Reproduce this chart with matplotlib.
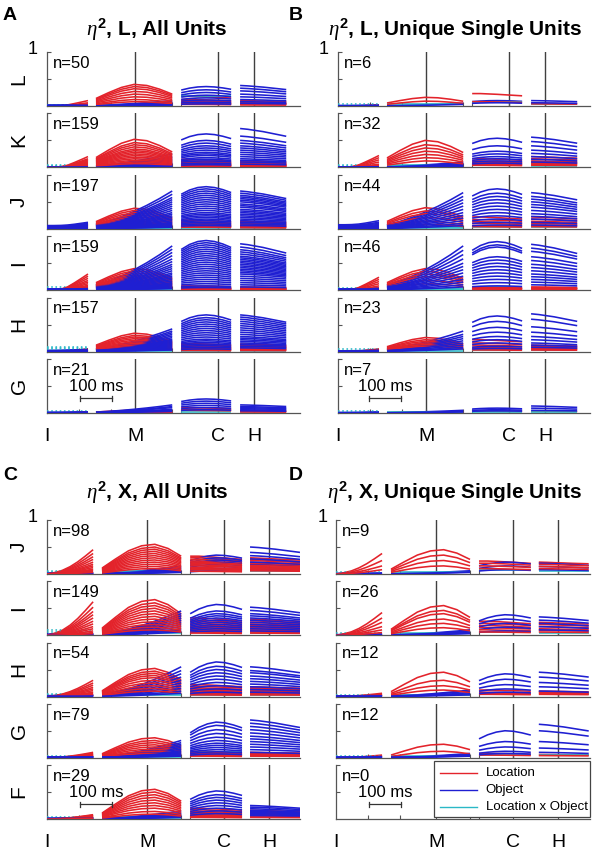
import numpy as np
import matplotlib
matplotlib.use('Agg')
import matplotlib.pyplot as plt
from matplotlib.patches import Rectangle
from matplotlib.lines import Line2D

plt.rcParams['font.family'] = ['Liberation Sans', 'DejaVu Sans']
plt.rcParams['mathtext.fontset'] = 'custom'
plt.rcParams['mathtext.it'] = 'Liberation Serif:italic'
plt.rcParams['mathtext.rm'] = 'Liberation Sans'
plt.rcParams['mathtext.bf'] = 'Liberation Sans:bold'

# ---------------- data ----------------
EVENT_LABELS = ['I', 'M', 'C', 'H']
AB_EVENTS = [0, 275, 534, 647]          # ms
CD_EVENTS = [0, 313, 553, 694]
AB_SEGMENTS = [[0, 128], [153, 391], [419, 575], [603, 747]]
CD_SEGMENTS = [[0, 144], [172, 419], [447, 609], [634, 790]]
SCALE_BAR_MS = 100

A_ROWS = ['L', 'K', 'J', 'I', 'H', 'G']
C_ROWS = ['J', 'I', 'H', 'G', 'F']
A_N = [50, 159, 197, 159, 157, 21]
B_N = [6, 32, 44, 46, 23, 7]
C_N = [98, 149, 54, 79, 29]
D_N = [9, 26, 12, 12, 0]

# normalised time profiles of each colour within the 4 windows (panels A, B)
AB_RED_PROFILE = [[0.0, 0.0, 0.05, 0.2, 0.45, 0.72, 1.0],
                  [0.35, 0.62, 0.86, 1.0, 0.95, 0.78, 0.55],
                  [1.0, 1.0, 0.97, 0.94, 0.9, 0.86, 0.82],
                  [1.0, 0.98, 0.95, 0.93, 0.9, 0.88, 0.86]]
AB_BLUE_PROFILE = [[0.5, 0.5, 0.52, 0.58, 0.7, 0.85, 1.0],
                   [0.12, 0.2, 0.32, 0.46, 0.62, 0.8, 1.0],
                   [0.82, 0.92, 0.98, 1.0, 0.98, 0.93, 0.86],
                   [1.0, 0.98, 0.95, 0.92, 0.88, 0.84, 0.8]]
# panels C, D
CD_RED_PROFILE = [[0.0, 0.06, 0.15, 0.3, 0.5, 0.74, 1.0],
                  [0.2, 0.5, 0.78, 0.95, 1.0, 0.86, 0.6],
                  [1.0, 1.0, 0.97, 0.94, 0.9, 0.86, 0.82],
                  [1.0, 0.98, 0.95, 0.93, 0.9, 0.88, 0.86]]
CD_BLUE_PROFILE = [[0.5, 0.5, 0.52, 0.58, 0.7, 0.85, 1.0],
                   [0.1, 0.16, 0.26, 0.4, 0.58, 0.78, 1.0],
                   [0.7, 0.85, 0.95, 1.0, 0.98, 0.92, 0.84],
                   [1.0, 0.98, 0.95, 0.92, 0.88, 0.84, 0.8]]
CYAN_PROFILE = [[1.0] * 7, [1.0] * 7, [1.0] * 7, [1.0] * 7]

# each curve: level in window 1..4  (eta^2)
A_L_red = [[0.10, 0.40, 0.12, 0.06], [0.06, 0.36, 0.18, 0.08], [0.04, 0.32, 0.10, 0.05],
           [0.02, 0.27, 0.08, 0.10], [0.02, 0.22, 0.06, 0.04], [0.01, 0.17, 0.05, 0.03],
           [0.01, 0.12, 0.04, 0.05], [0.01, 0.08, 0.03, 0.02]]
A_L_blue = [[0.03, 0.10, 0.36, 0.38], [0.02, 0.08, 0.30, 0.33], [0.02, 0.06, 0.25, 0.28],
            [0.02, 0.05, 0.20, 0.22], [0.01, 0.04, 0.15, 0.17], [0.01, 0.03, 0.11, 0.12],
            [0.01, 0.02, 0.07, 0.08], [0.01, 0.02, 0.04, 0.05]]
A_L_cyan = [[0.02, 0.02, 0.05, 0.04], [0.01, 0.01, 0.18, 0.03]]

A_K_red = [[0.20, 0.52, 0.15, 0.12], [0.16, 0.46, 0.10, 0.08], [0.14, 0.42, 0.12, 0.10],
           [0.12, 0.38, 0.08, 0.06], [0.10, 0.34, 0.06, 0.05], [0.08, 0.31, 0.10, 0.08],
           [0.06, 0.28, 0.05, 0.04], [0.05, 0.25, 0.07, 0.06], [0.04, 0.22, 0.04, 0.03],
           [0.03, 0.19, 0.05, 0.05], [0.02, 0.16, 0.03, 0.02], [0.02, 0.13, 0.04, 0.03],
           [0.01, 0.10, 0.02, 0.02], [0.01, 0.07, 0.02, 0.02]]
A_K_blue = [[0.02, 0.25, 0.62, 0.72], [0.02, 0.20, 0.50, 0.58], [0.02, 0.18, 0.45, 0.50],
            [0.02, 0.15, 0.40, 0.45], [0.01, 0.13, 0.36, 0.40], [0.01, 0.11, 0.32, 0.36],
            [0.01, 0.09, 0.28, 0.32], [0.01, 0.08, 0.25, 0.28], [0.01, 0.06, 0.22, 0.24],
            [0.01, 0.05, 0.18, 0.20], [0.01, 0.04, 0.15, 0.16], [0.01, 0.03, 0.12, 0.13],
            [0.01, 0.03, 0.08, 0.10], [0.01, 0.02, 0.05, 0.06]]
A_K_cyan = [[0.04, 0.03, 0.10, 0.08], [0.03, 0.02, 0.06, 0.05], [0.02, 0.02, 0.03, 0.03]]

A_J_red = [[0.10, 0.38, 0.16, 0.14], [0.08, 0.34, 0.13, 0.12], [0.07, 0.30, 0.11, 0.10],
           [0.05, 0.26, 0.09, 0.08], [0.04, 0.22, 0.07, 0.06], [0.03, 0.18, 0.06, 0.05],
           [0.02, 0.14, 0.05, 0.04], [0.02, 0.11, 0.04, 0.03], [0.01, 0.08, 0.03, 0.02]]
A_J_blue = [[0.12, 0.70, 0.78, 0.70], [0.10, 0.64, 0.74, 0.66], [0.09, 0.58, 0.70, 0.62],
            [0.08, 0.54, 0.66, 0.59], [0.07, 0.50, 0.62, 0.56], [0.06, 0.46, 0.58, 0.53],
            [0.05, 0.42, 0.54, 0.50], [0.05, 0.38, 0.50, 0.46], [0.04, 0.34, 0.46, 0.43],
            [0.04, 0.30, 0.42, 0.40], [0.03, 0.27, 0.38, 0.36], [0.03, 0.24, 0.34, 0.33],
            [0.03, 0.21, 0.30, 0.30], [0.02, 0.18, 0.27, 0.27], [0.02, 0.15, 0.24, 0.24],
            [0.02, 0.12, 0.21, 0.21], [0.02, 0.10, 0.18, 0.18], [0.01, 0.08, 0.15, 0.15],
            [0.01, 0.06, 0.12, 0.12], [0.01, 0.04, 0.09, 0.09], [0.01, 0.03, 0.06, 0.06]]
A_J_cyan = [[0.04, 0.03, 0.06, 0.05], [0.03, 0.02, 0.04, 0.04], [0.02, 0.02, 0.02, 0.02]]

A_I_red = [[0.30, 0.40, 0.08, 0.06], [0.26, 0.36, 0.06, 0.05], [0.22, 0.32, 0.05, 0.04],
           [0.18, 0.28, 0.04, 0.04], [0.15, 0.25, 0.04, 0.03], [0.12, 0.22, 0.03, 0.03],
           [0.09, 0.19, 0.03, 0.02], [0.07, 0.16, 0.02, 0.02], [0.05, 0.13, 0.02, 0.02],
           [0.03, 0.10, 0.02, 0.01], [0.02, 0.07, 0.01, 0.01]]
A_I_blue = [[0.05, 0.82, 0.92, 0.86], [0.05, 0.76, 0.88, 0.80], [0.04, 0.70, 0.84, 0.75],
            [0.04, 0.64, 0.80, 0.71], [0.04, 0.58, 0.76, 0.67], [0.03, 0.53, 0.72, 0.63],
            [0.03, 0.48, 0.68, 0.60], [0.03, 0.44, 0.64, 0.57], [0.03, 0.40, 0.60, 0.54],
            [0.02, 0.36, 0.56, 0.51], [0.02, 0.32, 0.52, 0.48], [0.02, 0.29, 0.48, 0.45],
            [0.02, 0.26, 0.44, 0.42], [0.02, 0.23, 0.40, 0.39], [0.02, 0.20, 0.36, 0.36],
            [0.02, 0.17, 0.32, 0.33], [0.01, 0.14, 0.28, 0.30], [0.01, 0.12, 0.24, 0.26],
            [0.01, 0.10, 0.20, 0.22], [0.01, 0.08, 0.16, 0.18], [0.01, 0.06, 0.12, 0.14],
            [0.01, 0.04, 0.08, 0.10], [0.01, 0.03, 0.05, 0.06]]
A_I_cyan = [[0.05, 0.03, 0.04, 0.04], [0.03, 0.02, 0.03, 0.02]]

A_H_red = [[0.05, 0.34, 0.15, 0.14], [0.04, 0.30, 0.13, 0.12], [0.04, 0.27, 0.11, 0.10],
           [0.03, 0.24, 0.09, 0.09], [0.03, 0.21, 0.08, 0.08], [0.02, 0.18, 0.06, 0.06],
           [0.02, 0.15, 0.05, 0.05], [0.02, 0.12, 0.04, 0.04], [0.01, 0.09, 0.03, 0.03],
           [0.01, 0.06, 0.02, 0.02]]
A_H_blue = [[0.04, 0.42, 0.68, 0.68], [0.04, 0.38, 0.63, 0.64], [0.03, 0.35, 0.59, 0.60],
            [0.03, 0.32, 0.55, 0.56], [0.03, 0.29, 0.51, 0.52], [0.03, 0.26, 0.47, 0.48],
            [0.02, 0.23, 0.43, 0.44], [0.02, 0.21, 0.39, 0.40], [0.02, 0.19, 0.35, 0.36],
            [0.02, 0.17, 0.31, 0.32], [0.02, 0.15, 0.27, 0.28], [0.02, 0.13, 0.23, 0.25],
            [0.01, 0.11, 0.20, 0.22], [0.01, 0.09, 0.17, 0.19], [0.01, 0.07, 0.14, 0.16],
            [0.01, 0.05, 0.11, 0.13], [0.01, 0.04, 0.08, 0.10], [0.01, 0.03, 0.05, 0.07]]
A_H_cyan = [[0.08, 0.04, 0.04, 0.04], [0.06, 0.03, 0.03, 0.03], [0.05, 0.02, 0.02, 0.02]]

A_G_red = [[0.02, 0.05, 0.10, 0.04], [0.01, 0.03, 0.07, 0.03], [0.01, 0.02, 0.05, 0.02]]
A_G_blue = [[0.02, 0.15, 0.26, 0.15], [0.02, 0.12, 0.22, 0.12], [0.01, 0.10, 0.18, 0.10],
            [0.01, 0.07, 0.14, 0.08], [0.01, 0.05, 0.10, 0.06], [0.01, 0.03, 0.06, 0.04]]
A_G_cyan = [[0.03, 0.02, 0.02, 0.02]]

B_L_red = [[0.02, 0.16, 0.23, 0.05], [0.01, 0.09, 0.08, 0.04]]
B_L_blue = [[0.02, 0.05, 0.10, 0.10], [0.01, 0.03, 0.06, 0.06]]
B_L_cyan = [[0.03, 0.03, 0.08, 0.04]]

B_K_red = [[0.22, 0.50, 0.16, 0.20], [0.18, 0.42, 0.12, 0.16], [0.14, 0.36, 0.10, 0.12],
           [0.10, 0.30, 0.08, 0.10], [0.06, 0.24, 0.06, 0.08], [0.04, 0.18, 0.05, 0.06],
           [0.02, 0.12, 0.04, 0.04]]
B_K_blue = [[0.02, 0.10, 0.54, 0.56], [0.02, 0.08, 0.40, 0.48], [0.02, 0.07, 0.30, 0.40],
            [0.01, 0.06, 0.25, 0.32], [0.01, 0.05, 0.20, 0.26], [0.01, 0.04, 0.16, 0.20],
            [0.01, 0.03, 0.12, 0.15], [0.01, 0.02, 0.08, 0.10]]
B_K_cyan = [[0.04, 0.04, 0.08, 0.06], [0.02, 0.02, 0.04, 0.03]]

B_J_red = [[0.04, 0.39, 0.22, 0.22], [0.03, 0.33, 0.17, 0.18], [0.02, 0.28, 0.13, 0.14],
           [0.02, 0.21, 0.10, 0.10], [0.01, 0.14, 0.06, 0.07], [0.01, 0.08, 0.04, 0.04]]
B_J_blue = [[0.15, 0.67, 0.74, 0.67], [0.12, 0.60, 0.66, 0.60], [0.10, 0.54, 0.60, 0.55],
            [0.08, 0.48, 0.54, 0.50], [0.06, 0.42, 0.48, 0.45], [0.05, 0.36, 0.42, 0.40],
            [0.04, 0.30, 0.36, 0.34], [0.03, 0.25, 0.30, 0.28], [0.03, 0.20, 0.24, 0.23],
            [0.02, 0.15, 0.18, 0.18], [0.02, 0.10, 0.12, 0.12], [0.01, 0.06, 0.07, 0.07]]
B_J_cyan = [[0.03, 0.03, 0.06, 0.05], [0.02, 0.02, 0.03, 0.03]]

B_I_red = [[0.24, 0.40, 0.06, 0.06], [0.20, 0.35, 0.05, 0.05], [0.16, 0.30, 0.04, 0.04],
           [0.12, 0.25, 0.03, 0.03], [0.08, 0.18, 0.03, 0.03], [0.04, 0.12, 0.02, 0.02]]
B_I_blue = [[0.04, 0.82, 0.90, 0.85], [0.04, 0.74, 0.84, 0.78], [0.03, 0.66, 0.80, 0.72],
            [0.03, 0.58, 0.62, 0.62], [0.03, 0.50, 0.56, 0.55], [0.02, 0.44, 0.50, 0.48],
            [0.02, 0.38, 0.44, 0.42], [0.02, 0.32, 0.38, 0.36], [0.02, 0.26, 0.32, 0.30],
            [0.01, 0.20, 0.26, 0.25], [0.01, 0.15, 0.20, 0.20], [0.01, 0.10, 0.14, 0.15],
            [0.01, 0.06, 0.08, 0.10]]
B_I_cyan = [[0.04, 0.03, 0.05, 0.04], [0.02, 0.02, 0.03, 0.02]]

B_H_red = [[0.05, 0.26, 0.22, 0.12], [0.04, 0.22, 0.16, 0.10], [0.03, 0.19, 0.12, 0.08],
           [0.02, 0.16, 0.08, 0.06], [0.02, 0.13, 0.05, 0.04], [0.01, 0.10, 0.03, 0.03]]
B_H_blue = [[0.03, 0.38, 0.66, 0.70], [0.02, 0.32, 0.56, 0.60], [0.02, 0.28, 0.45, 0.46],
            [0.02, 0.24, 0.36, 0.36], [0.02, 0.20, 0.28, 0.28], [0.01, 0.16, 0.22, 0.22],
            [0.01, 0.12, 0.16, 0.16], [0.01, 0.08, 0.10, 0.12], [0.01, 0.05, 0.06, 0.08]]
B_H_cyan = [[0.04, 0.04, 0.05, 0.05], [0.02, 0.02, 0.03, 0.03]]

B_G_red = [[0.01, 0.02, 0.03, 0.03]]
B_G_blue = [[0.02, 0.05, 0.09, 0.13], [0.01, 0.03, 0.06, 0.09], [0.01, 0.02, 0.04, 0.05]]
B_G_cyan = [[0.03, 0.02, 0.02, 0.02]]

C_J_red = [[0.45, 0.55, 0.33, 0.30], [0.38, 0.50, 0.30, 0.27], [0.32, 0.46, 0.27, 0.25],
           [0.27, 0.42, 0.24, 0.22], [0.22, 0.38, 0.22, 0.20], [0.18, 0.34, 0.20, 0.18],
           [0.15, 0.30, 0.17, 0.16], [0.12, 0.26, 0.15, 0.14], [0.09, 0.22, 0.12, 0.12],
           [0.07, 0.18, 0.10, 0.10], [0.05, 0.14, 0.08, 0.08], [0.03, 0.10, 0.05, 0.06]]
C_J_blue = [[0.02, 0.15, 0.35, 0.50], [0.02, 0.12, 0.30, 0.40], [0.02, 0.10, 0.26, 0.34],
            [0.01, 0.08, 0.22, 0.28], [0.01, 0.06, 0.18, 0.22], [0.01, 0.05, 0.14, 0.17],
            [0.01, 0.04, 0.10, 0.12], [0.01, 0.03, 0.06, 0.08]]
C_J_cyan = [[0.05, 0.06, 0.10, 0.08], [0.03, 0.04, 0.06, 0.05]]

C_I_red = [[0.62, 0.66, 0.32, 0.30], [0.52, 0.60, 0.28, 0.27], [0.44, 0.55, 0.25, 0.24],
           [0.38, 0.50, 0.22, 0.21], [0.32, 0.45, 0.19, 0.18], [0.26, 0.40, 0.16, 0.16],
           [0.21, 0.35, 0.14, 0.14], [0.16, 0.30, 0.12, 0.12], [0.12, 0.25, 0.10, 0.10],
           [0.08, 0.20, 0.08, 0.08], [0.05, 0.15, 0.06, 0.06], [0.03, 0.10, 0.04, 0.04]]
C_I_blue = [[0.03, 0.45, 0.57, 0.52], [0.03, 0.40, 0.45, 0.46], [0.02, 0.36, 0.40, 0.40],
            [0.02, 0.32, 0.36, 0.36], [0.02, 0.28, 0.32, 0.32], [0.02, 0.24, 0.28, 0.28],
            [0.02, 0.20, 0.24, 0.24], [0.01, 0.16, 0.20, 0.20], [0.01, 0.12, 0.16, 0.16],
            [0.01, 0.09, 0.12, 0.12], [0.01, 0.06, 0.08, 0.08]]
C_I_cyan = [[0.10, 0.08, 0.10, 0.08], [0.06, 0.05, 0.06, 0.05]]

C_H_red = [[0.30, 0.52, 0.22, 0.18], [0.25, 0.47, 0.19, 0.16], [0.21, 0.43, 0.16, 0.14],
           [0.17, 0.39, 0.14, 0.12], [0.14, 0.35, 0.12, 0.10], [0.11, 0.30, 0.10, 0.09],
           [0.08, 0.25, 0.08, 0.07], [0.06, 0.20, 0.06, 0.06], [0.04, 0.15, 0.05, 0.05],
           [0.02, 0.10, 0.03, 0.03]]
C_H_blue = [[0.03, 0.55, 0.64, 0.55], [0.03, 0.48, 0.56, 0.48], [0.02, 0.42, 0.50, 0.44],
            [0.02, 0.36, 0.44, 0.38], [0.02, 0.30, 0.38, 0.33], [0.02, 0.25, 0.32, 0.28],
            [0.01, 0.20, 0.26, 0.23], [0.01, 0.15, 0.20, 0.18], [0.01, 0.10, 0.14, 0.13],
            [0.01, 0.06, 0.08, 0.08]]
C_H_cyan = [[0.04, 0.05, 0.06, 0.05], [0.02, 0.03, 0.03, 0.03]]

C_G_red = [[0.10, 0.37, 0.12, 0.10], [0.08, 0.32, 0.10, 0.09], [0.07, 0.28, 0.08, 0.08],
           [0.06, 0.24, 0.07, 0.07], [0.05, 0.20, 0.06, 0.06], [0.04, 0.16, 0.05, 0.05],
           [0.03, 0.12, 0.04, 0.04], [0.02, 0.08, 0.03, 0.03]]
C_G_blue = [[0.02, 0.32, 0.66, 0.70], [0.02, 0.28, 0.60, 0.64], [0.02, 0.25, 0.52, 0.58],
            [0.02, 0.22, 0.45, 0.52], [0.02, 0.19, 0.38, 0.46], [0.01, 0.16, 0.32, 0.40],
            [0.01, 0.13, 0.27, 0.35], [0.01, 0.11, 0.23, 0.30], [0.01, 0.09, 0.19, 0.25],
            [0.01, 0.07, 0.15, 0.20], [0.01, 0.05, 0.11, 0.15], [0.01, 0.03, 0.07, 0.10]]
C_G_cyan = [[0.03, 0.04, 0.10, 0.06], [0.02, 0.02, 0.06, 0.04]]

C_F_red = [[0.08, 0.55, 0.20, 0.16], [0.07, 0.50, 0.17, 0.14], [0.06, 0.45, 0.14, 0.12],
           [0.05, 0.40, 0.12, 0.10], [0.04, 0.35, 0.10, 0.09], [0.03, 0.30, 0.08, 0.08],
           [0.03, 0.25, 0.06, 0.06], [0.02, 0.20, 0.05, 0.05], [0.02, 0.14, 0.04, 0.04],
           [0.01, 0.09, 0.03, 0.03]]
C_F_blue = [[0.02, 0.15, 0.52, 0.25], [0.02, 0.12, 0.45, 0.22], [0.02, 0.10, 0.40, 0.19],
            [0.01, 0.09, 0.35, 0.16], [0.01, 0.08, 0.30, 0.14], [0.01, 0.06, 0.25, 0.12],
            [0.01, 0.05, 0.20, 0.10], [0.01, 0.04, 0.15, 0.08], [0.01, 0.03, 0.10, 0.06]]
C_F_cyan = [[0.03, 0.03, 0.06, 0.05], [0.02, 0.02, 0.03, 0.03]]

D_J_red = [[0.38, 0.45, 0.24, 0.22], [0.25, 0.35, 0.20, 0.18], [0.15, 0.25, 0.15, 0.14],
           [0.08, 0.15, 0.10, 0.10]]
D_J_blue = [[0.02, 0.06, 0.22, 0.20], [0.01, 0.04, 0.15, 0.14], [0.01, 0.03, 0.08, 0.08]]
D_J_cyan = [[0.03, 0.03, 0.08, 0.06]]

D_I_red = [[0.42, 0.55, 0.26, 0.24], [0.32, 0.46, 0.22, 0.20], [0.24, 0.40, 0.18, 0.16],
           [0.16, 0.30, 0.14, 0.12], [0.10, 0.22, 0.10, 0.09], [0.05, 0.14, 0.06, 0.06]]
D_I_blue = [[0.02, 0.10, 0.38, 0.34], [0.02, 0.08, 0.30, 0.28], [0.01, 0.06, 0.22, 0.22],
            [0.01, 0.04, 0.15, 0.16], [0.01, 0.03, 0.08, 0.10]]
D_I_cyan = [[0.04, 0.04, 0.06, 0.05]]

D_H_red = [[0.06, 0.45, 0.12, 0.10], [0.04, 0.30, 0.08, 0.08], [0.03, 0.20, 0.06, 0.06],
           [0.02, 0.12, 0.04, 0.04]]
D_H_blue = [[0.02, 0.12, 0.42, 0.45], [0.02, 0.10, 0.32, 0.36], [0.01, 0.07, 0.22, 0.26],
            [0.01, 0.05, 0.14, 0.18], [0.01, 0.03, 0.08, 0.10]]
D_H_cyan = [[0.03, 0.03, 0.05, 0.05]]

D_G_red = [[0.05, 0.25, 0.08, 0.06], [0.03, 0.12, 0.05, 0.04]]
D_G_blue = [[0.02, 0.08, 0.50, 0.62], [0.02, 0.06, 0.30, 0.50], [0.01, 0.05, 0.20, 0.30],
            [0.01, 0.04, 0.12, 0.18], [0.01, 0.03, 0.08, 0.10]]
D_G_cyan = [[0.03, 0.03, 0.06, 0.05]]

D_F_red = []
D_F_blue = []
D_F_cyan = []

LEGEND_LABELS = ['Location', 'Object', 'Location x Object']

# ---------------- style ----------------
RED = '#e3232b'
BLUE = '#1f1fd2'
CYAN = '#2ab8c6'
AXC = '#555555'
EVC = '#404040'
LW = 1.15

W, H = 594, 852
fig = plt.figure(figsize=(W / 100, H / 100), dpi=100)


def add_ax(left, bottom, width, height=54):
    return fig.add_axes([left / W, 1 - bottom / H, width / W, height / H])


def draw_set(ax, curves, profile, segs, color, first_ls='-'):
    for c in curves:
        for k, (a, b) in enumerate(segs):
            xs = np.linspace(a, b, len(profile[k]))
            ys = c[k] * np.asarray(profile[k])
            ls = first_ls if k == 0 else '-'
            ax.plot(xs, ys, color=color, lw=LW, ls=ls, zorder=3, solid_capstyle='butt')


def style_ax(ax, xmax, events, segs, n, bottom_row, row_label, scale):
    ax.set_xlim(0, xmax)
    ax.set_ylim(0, 1)
    for s in ['top', 'right']:
        ax.spines[s].set_visible(False)
    for s in ['left', 'bottom']:
        ax.spines[s].set_color(AXC)
        ax.spines[s].set_linewidth(0.9)
    ax.set_yticks([0.5, 1.0])
    ax.set_yticklabels([])
    ax.set_xticks([100, 200, events[1], segs[1][1], segs[2][0], events[2], events[3]])
    ax.set_xticklabels([])
    ax.tick_params(direction='in', length=3, width=0.8, colors=AXC)
    if n > 0:
        for e in events[1:]:
            ax.axvline(e, color=EVC, lw=1.0, zorder=1)
    ax.text(0.025, 0.79, f'n={n}', transform=ax.transAxes, fontsize=12,
            ha='left', va='center', zorder=6)
    if row_label is not None:
        ax.text(-28 / 253, 0.5, row_label, fontsize=15, rotation=90,
                ha='center', va='center', transform=ax.transAxes)
    if bottom_row:
        for lab, e in zip(EVENT_LABELS, events):
            ax.text(e, -0.44, lab, fontsize=14, ha='center', va='center',
                    transform=ax.get_xaxis_transform())
        x0 = scale
        x1 = scale + SCALE_BAR_MS
        ax.plot([x0, x1], [0.27, 0.27], color='#333333', lw=0.9, zorder=6)
        ax.plot([x0, x0], [0.22, 0.32], color='#333333', lw=0.9, zorder=6)
        ax.plot([x1, x1], [0.22, 0.32], color='#333333', lw=0.9, zorder=6)
        ax.text((x0 + x1) / 2, 0.49, f'{SCALE_BAR_MS} ms', fontsize=12,
                ha='center', va='center', zorder=6)


def draw_panel(left, width, bottoms, xmax, events, segs, rows, ns, data, labels, scale,
               red_prof, blue_prof):
    axes = []
    for i, bpx in enumerate(bottoms):
        ax = add_ax(left, bpx, width)
        red, blue, cyan = data[i]
        m = max(len(red), len(blue), len(cyan))
        for j in range(m):
            if j < len(red):
                draw_set(ax, [red[j]], red_prof, segs, RED)
            if j < len(blue):
                draw_set(ax, [blue[j]], blue_prof, segs, BLUE)
            if j < len(cyan):
                draw_set(ax, [cyan[j]], CYAN_PROFILE, segs, CYAN, first_ls=':')
        style_ax(ax, xmax, events, segs, ns[i], i == len(bottoms) - 1,
                 rows[i] if labels else None, scale)
        axes.append(ax)
    return axes


AB_BOTTOMS = [106, 167.4, 228.8, 290.2, 351.6, 413]
CD_BOTTOMS = [574, 635.25, 696.5, 757.75, 819]

A_DATA = [(A_L_red, A_L_blue, A_L_cyan), (A_K_red, A_K_blue, A_K_cyan),
          (A_J_red, A_J_blue, A_J_cyan), (A_I_red, A_I_blue, A_I_cyan),
          (A_H_red, A_H_blue, A_H_cyan), (A_G_red, A_G_blue, A_G_cyan)]
B_DATA = [(B_L_red, B_L_blue, B_L_cyan), (B_K_red, B_K_blue, B_K_cyan),
          (B_J_red, B_J_blue, B_J_cyan), (B_I_red, B_I_blue, B_I_cyan),
          (B_H_red, B_H_blue, B_H_cyan), (B_G_red, B_G_blue, B_G_cyan)]
C_DATA = [(C_J_red, C_J_blue, C_J_cyan), (C_I_red, C_I_blue, C_I_cyan),
          (C_H_red, C_H_blue, C_H_cyan), (C_G_red, C_G_blue, C_G_cyan),
          (C_F_red, C_F_blue, C_F_cyan)]
D_DATA = [(D_J_red, D_J_blue, D_J_cyan), (D_I_red, D_I_blue, D_I_cyan),
          (D_H_red, D_H_blue, D_H_cyan), (D_G_red, D_G_blue, D_G_cyan),
          (D_F_red, D_F_blue, D_F_cyan)]

draw_panel(47, 253, AB_BOTTOMS, 790, AB_EVENTS, AB_SEGMENTS, A_ROWS, A_N, A_DATA, True, 103,
           AB_RED_PROFILE, AB_BLUE_PROFILE)
draw_panel(338, 252, AB_BOTTOMS, 787, AB_EVENTS, AB_SEGMENTS, A_ROWS, B_N, B_DATA, False, 97,
           AB_RED_PROFILE, AB_BLUE_PROFILE)
draw_panel(47, 253, CD_BOTTOMS, 790, CD_EVENTS, CD_SEGMENTS, C_ROWS, C_N, C_DATA, True, 103,
           CD_RED_PROFILE, CD_BLUE_PROFILE)
d_axes = draw_panel(336, 254, CD_BOTTOMS, 794, CD_EVENTS, CD_SEGMENTS, C_ROWS, D_N, D_DATA,
                    False, 103, CD_RED_PROFILE, CD_BLUE_PROFILE)

# legend in the empty D-F panel
lax = d_axes[-1]
lax.add_patch(Rectangle((0.386, 0.04), 0.614, 1.03, transform=lax.transAxes,
                        facecolor='white', edgecolor='#444444', lw=0.9, clip_on=False, zorder=7))
for k, (lab, col) in enumerate(zip(LEGEND_LABELS, [RED, BLUE, CYAN])):
    yy = [0.85, 0.54, 0.22][k]
    lax.add_line(Line2D([0.409, 0.555], [yy, yy], color=col, lw=1.0,
                        transform=lax.transAxes, clip_on=False, zorder=8))
    lax.text(0.59, yy, lab, transform=lax.transAxes, fontsize=9.5,
             ha='left', va='center', zorder=8)

# titles and panel letters
fig.text(10 / W, 1 - 15 / H, 'A', fontsize=14, fontweight='bold', ha='center', va='center')
fig.text(296 / W, 1 - 15 / H, 'B', fontsize=14, fontweight='bold', ha='center', va='center')
fig.text(10 / W, 1 - 475 / H, 'C', fontsize=14, fontweight='bold', ha='center', va='center')
fig.text(296 / W, 1 - 475 / H, 'D', fontsize=14, fontweight='bold', ha='center', va='center')

fig.text(157 / W, 1 - 30 / H, r'$\eta^{\mathbf{2}}$, L, All Units', fontsize=15,
         fontweight='bold', ha='center', va='center')
fig.text(455 / W, 1 - 30 / H, r'$\eta^{\mathbf{2}}$, L, Unique Single Units', fontsize=15,
         fontweight='bold', ha='center', va='center')
fig.text(157 / W, 1 - 493 / H, r'$\eta^{\mathbf{2}}$, X, All Units', fontsize=15,
         fontweight='bold', ha='center', va='center')
fig.text(455 / W, 1 - 493 / H, r'$\eta^{\mathbf{2}}$, X, Unique Single Units', fontsize=15,
         fontweight='bold', ha='center', va='center')

for (xp, yp) in [(33, 50), (324, 50), (33, 517), (323, 517)]:
    fig.text(xp / W, 1 - yp / H, '1', fontsize=13, ha='center', va='center')

fig.savefig('out.png', dpi=100)
